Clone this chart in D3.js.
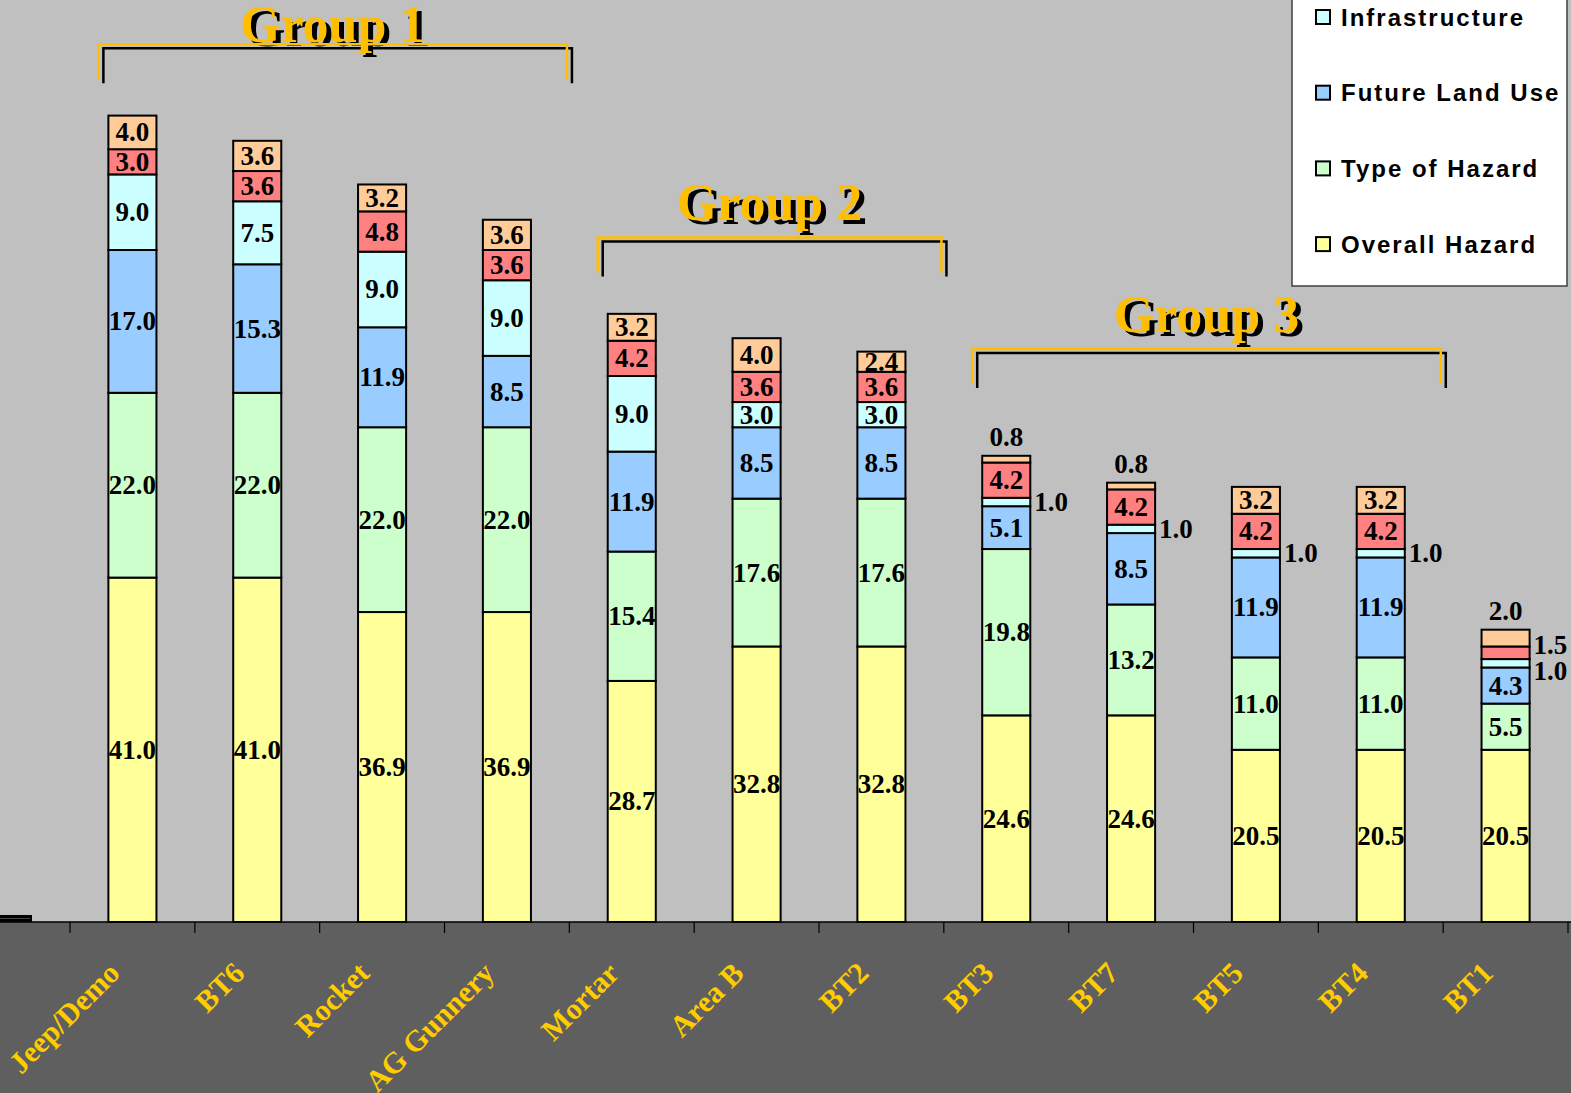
<!DOCTYPE html>
<html>
<head>
<meta charset="utf-8">
<script src="https://cdn.jsdelivr.net/npm/d3@7"></script>
<style>
  html, body { margin: 0; padding: 0; background: #c0c0c0; overflow: hidden; }
</style>
</head>
<body>
<div id="main"></div>
<script>
// categories in display order
var categories = ["Jeep/Demo", "BT6", "Rocket", "AG Gunnery", "Mortar", "Area B",
                  "BT2", "BT3", "BT7", "BT5", "BT4", "BT1"];

// stacked series, bottom to top
var overallHazard  = [41.0, 41.0, 36.9, 36.9, 28.7, 32.8, 32.8, 24.6, 24.6, 20.5, 20.5, 20.5];
var typeOfHazard   = [22.0, 22.0, 22.0, 22.0, 15.4, 17.6, 17.6, 19.8, 13.2, 11.0, 11.0, 5.5];
var futureLandUse  = [17.0, 15.3, 11.9, 8.5, 11.9, 8.5, 8.5, 5.1, 8.5, 11.9, 11.9, 4.3];
var infrastructure = [9.0, 7.5, 9.0, 9.0, 9.0, 3.0, 3.0, 1.0, 1.0, 1.0, 1.0, 1.0];
var series5        = [3.0, 3.6, 4.8, 3.6, 4.2, 3.6, 3.6, 4.2, 4.2, 4.2, 4.2, 1.5];
var series6        = [4.0, 3.6, 3.2, 3.6, 3.2, 4.0, 2.4, 0.8, 0.8, 3.2, 3.2, 2.0];

var seriesNames = ["Overall Hazard", "Type of Hazard", "Future Land Use", "Infrastructure", "s5", "s6"];
var seriesValues = [overallHazard, typeOfHazard, futureLandUse, infrastructure, series5, series6];
var seriesColors = ["#ffff99", "#ccffcc", "#99ccff", "#ccffff", "#ff8080", "#ffcc99"];
var legendNames = ["Infrastructure", "Future Land Use", "Type of Hazard", "Overall Hazard"];

// group annotations: first / last category and bracket level (in chart units)
var groupNames = ["Group 1", "Group 2", "Group 3"];
var groupFrom  = ["Jeep/Demo", "Mortar", "BT3"];
var groupTo    = ["AG Gunnery", "BT2", "BT4"];
var groupLevel = [104.5, 81.5, 68.2];

var ctx = {
    w: 1571,
    h: 1093,
    left: 70,
    right: 1568,
    base: 922,
    gold: "#ffcc00",
    groupGold: "#ffbf00",
    band: "#5f5f5f",
    serif: "'Liberation Serif', 'Times New Roman', serif",
    sans: "'Liberation Sans', Arial, sans-serif"
};

var createChart = function(svg){
    var x = d3.scaleBand()
              .domain(categories)
              .range([ctx.left, ctx.right])
              .paddingInner(0.615)
              .paddingOuter(0.3075);
    var y = d3.scaleLinear().domain([0, 100]).range([ctx.base, 82]);

    // table for the stack
    var table = categories.map(function(c, i){
        var row = {cat: c};
        seriesNames.forEach(function(s, j){ row[s] = seriesValues[j][i]; });
        return row;
    });
    var stacked = d3.stack().keys(seriesNames)(table);

    // background + bottom band
    svg.append("rect").attr("width", ctx.w).attr("height", ctx.h).style("fill", "#c0c0c0");
    svg.append("rect").attr("y", ctx.base).attr("width", ctx.w).attr("height", ctx.h - ctx.base)
       .style("fill", ctx.band);

    // bars
    var layers = svg.selectAll("g.layer")
                    .data(stacked)
                    .enter().append("g")
                    .classed("layer", true)
                    .style("fill", function(d, i){ return seriesColors[i]; });
    layers.selectAll("rect")
          .data(function(d){ return d; })
          .enter().append("rect")
          .attr("x", function(d){ return x(d.data.cat); })
          .attr("y", function(d){ return y(d[1]); })
          .attr("width", x.bandwidth())
          .attr("height", function(d){ return y(d[0]) - y(d[1]); })
          .style("stroke", "#000")
          .style("stroke-width", 2);

    // axis line and ticks at band boundaries
    svg.append("line").attr("x1", 0).attr("x2", ctx.w).attr("y1", ctx.base).attr("y2", ctx.base)
       .style("stroke", "#000").style("stroke-width", 1.5);
    d3.range(categories.length + 1).forEach(function(i){
        var tx = ctx.left + i * x.step();
        svg.append("line").attr("x1", tx).attr("x2", tx).attr("y1", ctx.base).attr("y2", ctx.base + 11)
           .style("stroke", "#000").style("stroke-width", 1.2);
    });
    // leftover y-axis stub
    svg.append("rect").attr("x", 0).attr("y", 915).attr("width", 32).attr("height", 7).style("fill", "#000");
    svg.append("line").attr("x1", 0).attr("x2", 30).attr("y1", 918.5).attr("y2", 918.5)
       .style("stroke", "#444").style("stroke-width", 1);

    // category labels
    svg.selectAll("text.cat")
       .data(categories)
       .enter().append("text")
       .classed("cat", true)
       .attr("transform", function(d){
           return "translate(" + (x(d) + x.bandwidth() / 2 - 11) + "," + 975 + ") rotate(-45)";
       })
       .attr("text-anchor", "end")
       .style("font-family", ctx.serif)
       .style("font-weight", "bold")
       .style("font-size", "30px")
       .style("fill", ctx.gold)
       .text(function(d){ return d; });

    // value labels
    var labels = svg.append("g");
    categories.forEach(function(c, i){
        var bx = x(c), bw = x.bandwidth();
        var rightSide = [];
        stacked.forEach(function(layer, j){
            var seg = layer[i], v = seriesValues[j][i];
            var mid = (y(seg[0]) + y(seg[1])) / 2;
            if (v > 2.0) {
                labels.append("text").attr("x", bx + bw / 2).attr("y", mid + 9)
                      .attr("text-anchor", "middle").text(v.toFixed(1));
            } else if (j === stacked.length - 1) {
                labels.append("text").attr("x", bx + bw / 2).attr("y", y(seg[1]) - 10)
                      .attr("text-anchor", "middle").text(v.toFixed(1));
            } else {
                rightSide.push({v: v, y: mid});
            }
        });
        // spread right-side labels that would collide
        rightSide.sort(function(a, b){ return a.y - b.y; });
        for (var k = 1; k < rightSide.length; k++) {
            if (rightSide[k].y - rightSide[k - 1].y < 26) {
                var m = (rightSide[k].y + rightSide[k - 1].y) / 2;
                rightSide[k - 1].y = m - 13;
                rightSide[k].y = m + 13;
            }
        }
        rightSide.forEach(function(r){
            labels.append("text").attr("x", bx + bw + 4).attr("y", r.y + 9)
                  .attr("text-anchor", "start").text(r.v.toFixed(1));
        });
    });
    labels.selectAll("text")
          .style("font-family", ctx.serif)
          .style("font-weight", "bold")
          .style("font-size", "27px")
          .style("fill", "#000");

    // group brackets with drop shadow
    groupNames.forEach(function(g, i){
        var x0 = x(groupFrom[i]) - 10,
            x1 = x(groupTo[i]) + x.bandwidth() + 36,
            gy = y(groupLevel[i]);
        var path = "M" + x0 + "," + (gy + 35) + "V" + gy + "H" + x1 + "V" + (gy + 35);
        var ty = Math.max(gy - 17, 42);
        [["#000", 5, 4], [ctx.groupGold, 0, 0]].forEach(function(s){
            svg.append("path").attr("d", path)
               .attr("transform", "translate(" + s[1] + "," + s[2] + ")")
               .style("fill", "none").style("stroke", s[0]).style("stroke-width", 2.5);
            svg.append("text").attr("x", (x0 + x1) / 2 + s[1]).attr("y", ty + s[2])
               .attr("text-anchor", "middle")
               .style("font-family", ctx.serif).style("font-weight", "bold")
               .style("font-size", "52px").style("fill", s[0])
               .text(g);
        });
    });

    // legend (its top runs off the page)
    svg.append("rect").attr("x", 1292).attr("y", -180).attr("width", 275).attr("height", 466)
       .style("fill", "#fff").style("stroke", "#404040").style("stroke-width", 1.5);
    var legend = svg.selectAll("g.lg")
                    .data(legendNames)
                    .enter().append("g")
                    .classed("lg", true)
                    .attr("transform", function(d, i){ return "translate(1316," + (17 + i * 75.7) + ")"; });
    legend.append("rect").attr("x", 0).attr("y", -7).attr("width", 14).attr("height", 14)
          .style("fill", function(d){ return seriesColors[seriesNames.indexOf(d)]; })
          .style("stroke", "#000").style("stroke-width", 2);
    legend.append("text").attr("x", 25).attr("y", 8.5)
          .style("font-family", ctx.sans).style("font-weight", "bold")
          .style("font-size", "24px").style("letter-spacing", "2px")
          .style("fill", "#000")
          .text(function(d){ return d; });
};

var createViz = function(){
    var svgEl = d3.select("#main").append("svg");
    svgEl.attr("width", ctx.w);
    svgEl.attr("height", ctx.h);
    svgEl.style("display", "block");
    createChart(svgEl);
};

createViz();
</script>
</body>
</html>
